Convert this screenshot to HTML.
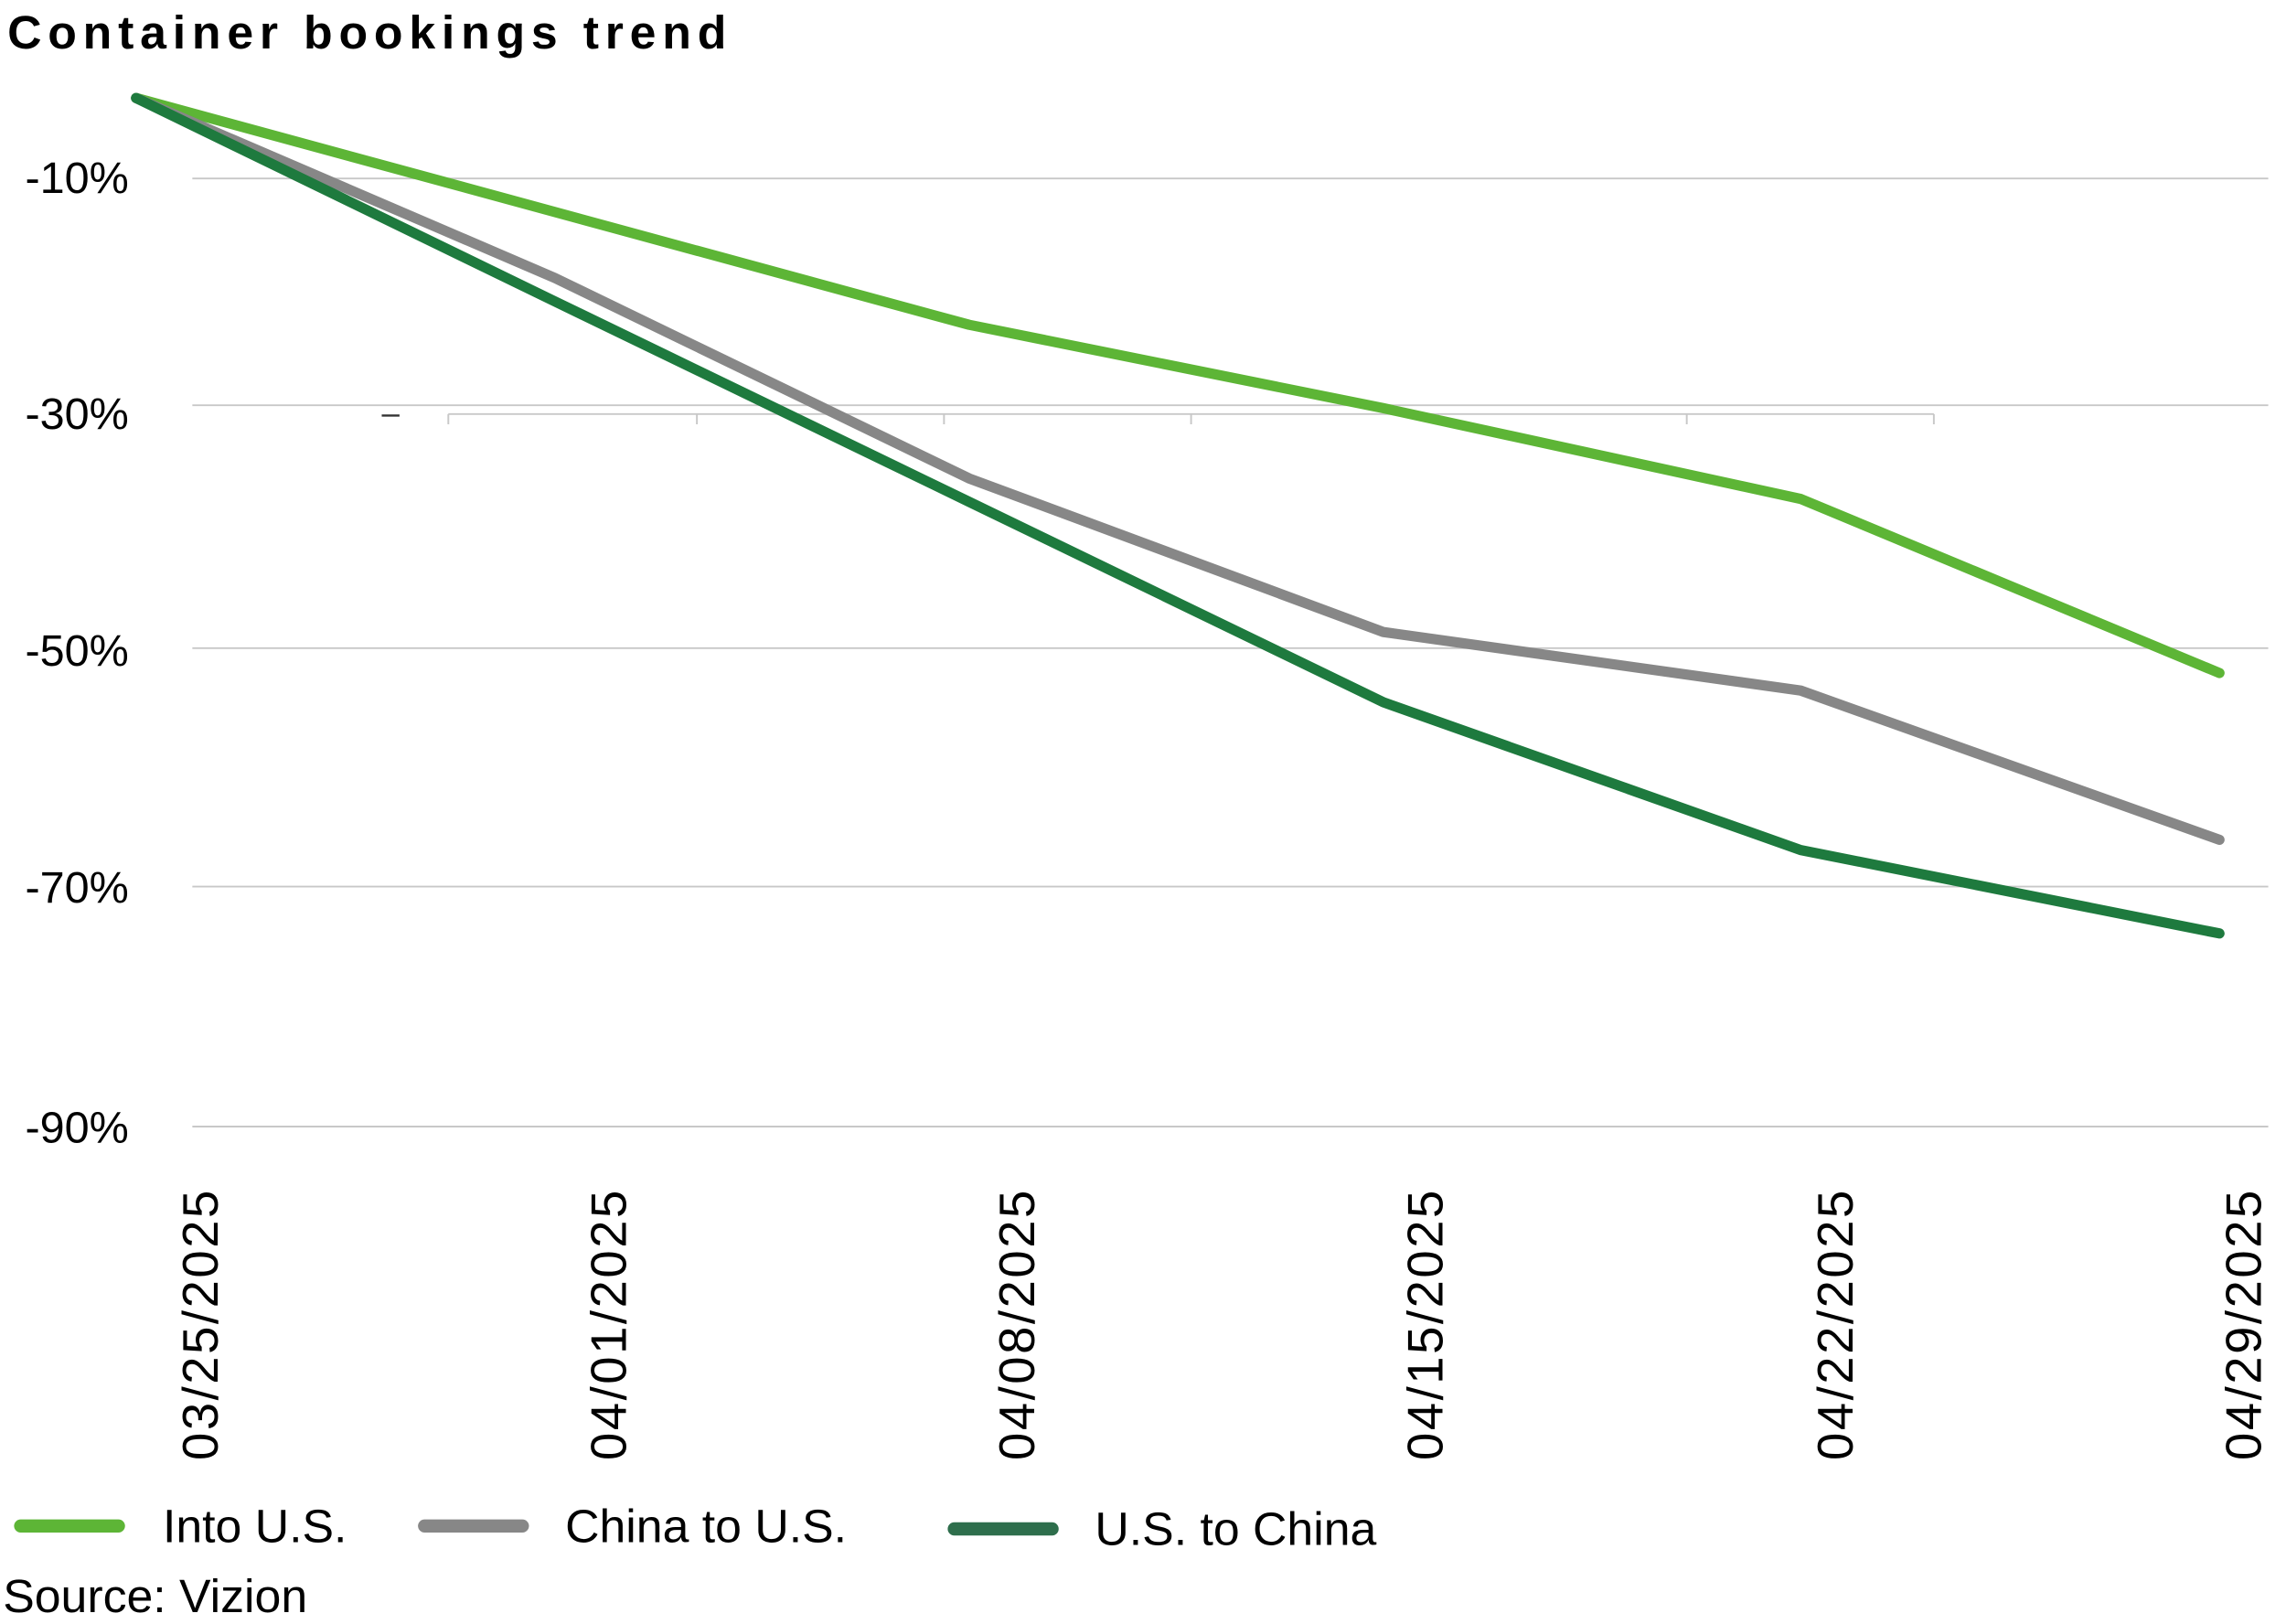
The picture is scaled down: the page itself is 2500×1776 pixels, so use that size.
<!DOCTYPE html>
<html><head><meta charset="utf-8"><style>
html,body{margin:0;padding:0;background:#fff;width:2500px;height:1776px;overflow:hidden}
svg{display:block}
text{font-family:"Liberation Sans",sans-serif;fill:#000}
</style></head><body>
<svg width="2500" height="1776" viewBox="0 0 1545 1110" preserveAspectRatio="none">
<text x="5" y="33" font-size="32" font-weight="bold" letter-spacing="4.2">Container bookings trend</text>
<g stroke="#c8c8c8" stroke-width="1.2">
<line x1="130" y1="122" x2="1533" y2="122"/>
<line x1="130" y1="277" x2="1533" y2="277"/>
<line x1="130" y1="443" x2="1533" y2="443"/>
<line x1="130" y1="606" x2="1533" y2="606"/>
<line x1="130" y1="770" x2="1533" y2="770"/>
<line x1="303" y1="283" x2="1307" y2="283"/>
<line x1="303" y1="283" x2="303" y2="290"/><line x1="471" y1="283" x2="471" y2="290"/>
<line x1="638" y1="283" x2="638" y2="290"/><line x1="805" y1="283" x2="805" y2="290"/>
<line x1="972" y1="283" x2="972" y2="290"/><line x1="1140" y1="283" x2="1140" y2="290"/>
<line x1="1307" y1="283" x2="1307" y2="290"/>
</g>
<line x1="258" y1="284" x2="270" y2="284" stroke="#333" stroke-width="1.5"/>
<g font-size="30" text-anchor="end" fill="#222">
<text x="87" y="132">-10%</text>
<text x="87" y="293">-30%</text>
<text x="87" y="455">-50%</text>
<text x="87" y="617">-70%</text>
<text x="87" y="781">-90%</text>
</g>
<g font-size="34" text-anchor="end" letter-spacing="1.6">
<text transform="translate(147,812) rotate(-90)">03/25/2025</text>
<text transform="translate(423,812) rotate(-90)">04/01/2025</text>
<text transform="translate(699,812) rotate(-90)">04/08/2025</text>
<text transform="translate(975,812) rotate(-90)">04/15/2025</text>
<text transform="translate(1252,812) rotate(-90)">04/22/2025</text>
<text transform="translate(1528,812) rotate(-90)">04/29/2025</text>
</g>
<g fill="none" stroke-width="7" stroke-linejoin="round" stroke-linecap="round">
<polyline stroke="#5db536" points="92,67 655,222 935,279 1217,341 1500,460"/>
<polyline stroke="#878787" points="92,67 375,190 655,327 935,432 1217,472 1500,574"/>
<polyline stroke="#1e7a3e" points="92,67 375,206 655,343 935,480 1217,581 1500,638"/>
</g>
<g stroke-width="9" stroke-linecap="round">
<line x1="14" y1="1043" x2="80" y2="1043" stroke="#5db536"/>
<line x1="287" y1="1043" x2="353" y2="1043" stroke="#878787"/>
<line x1="645" y1="1045" x2="711" y2="1045" stroke="#2e6e4c"/>
</g>
<g font-size="32">
<text x="110" y="1054">Into U.S.</text>
<text x="382" y="1054">China to U.S.</text>
<text x="740" y="1056">U.S. to China</text>
<text x="2" y="1102">Source:  Vizion</text>
</g>
</svg>
</body></html>
